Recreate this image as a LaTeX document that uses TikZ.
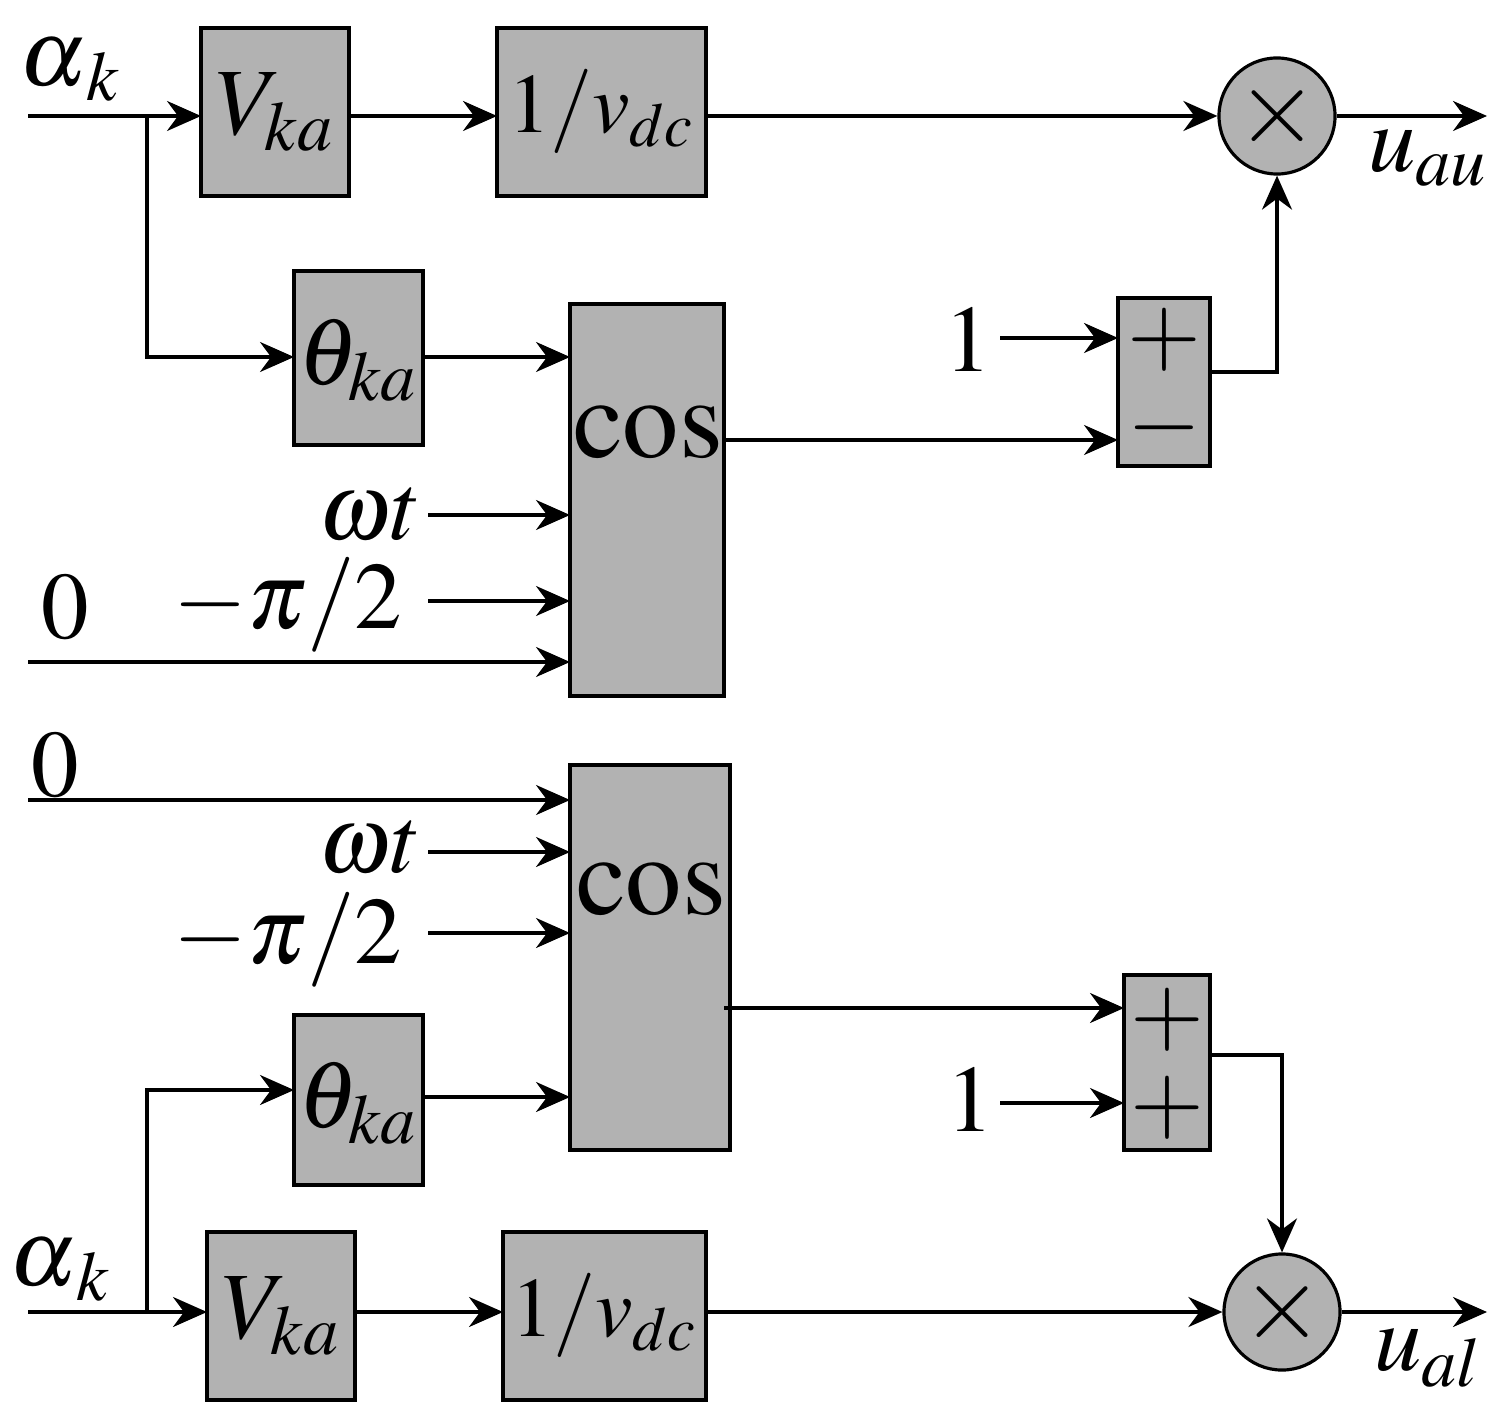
\documentclass[tikz,border=0pt]{standalone}
\usepackage{mathptmx}
\usetikzlibrary{arrows.meta}
\begin{document}
\begin{tikzpicture}[x=0.01cm,y=-0.01cm,line width=0.9pt,
  arr/.style={-{Stealth[length=0.34cm,width=0.3cm]}},
  blk/.style={draw,fill=black!30},
  mul/.style={draw,fill=black!30,circle,minimum size=1.16cm,inner sep=0pt,font=\fontsize{30}{30}\selectfont},
  lbl/.style={font=\fontsize{27}{29}\selectfont,inner sep=0pt},
  dl/.style={font=\fontsize{24}{26}\selectfont,inner sep=0pt}]
\useasboundingbox (0,0) rectangle (1507,1419);
% ---------- upper ----------
\draw[blk] (201,28) rectangle (349,196); \node[lbl] (V1) at (275,112) {$V_{ka}$};
\draw[blk] (497,28) rectangle (706,196); \node[dl] (D1) at (601,112) {$1/v_{dc}$};
\node[mul] (M1) at (1277,116) {$\times$};
\draw[blk] (294,271) rectangle (423,445); \node[lbl] (T1) at (358,360) {$\theta_{ka}$};
\draw[blk] (570,304) rectangle (724,696); \node[lbl,font=\fontsize{32}{34}\selectfont] (C1) at (648,433) {$\cos$};
\draw[blk] (1118,298) rectangle (1210,466);
\node[lbl] (p1) at (1164,340) {$+$};
\node[lbl] (m1) at (1164,428) {$-$};
\node[lbl] (a1) at (70,70) {$\alpha_{\,k}$};
\coordinate (in1) at (28,116);
\coordinate (br1) at (147,116);
\draw[arr] (in1) -- (201,116);
\draw[arr] (349,116) -- (497,116);
\draw[arr] (706,116) -- (M1.west);
\coordinate (o1) at (1487,116);
\draw[arr] (M1.east) -- (o1);
\node[lbl] at (1428,158) {$u_{au}$};
\draw[arr] (br1) |- (294,357);
\draw[arr] (423,357) -- (570,357);
\draw[arr] (724,440) -- (1118,440);
\node[lbl] (one1) at (968,340) {$1$};
\draw[arr] (1000,338) -- (1118,338);
\coordinate (s1o) at (1277,372);
\draw[arr] (1210,372) -- (s1o) -- (M1.south);
\node[lbl] at (370,515) {$\omega t$};
\draw[arr] (428,515) -- (570,515);
\node[lbl] at (288,605) {$-\pi/2$};
\draw[arr] (428,601) -- (570,601);
\node[lbl] at (65,607) {$0$};
\draw[arr] (28,662) -- (570,662);
% ---------- lower ----------
\node[lbl] at (55,765) {$0$};
\draw[blk] (570,765) rectangle (730,1150); \node[lbl,font=\fontsize{32}{34}\selectfont] (C2) at (651,890) {$\cos$};
\draw[arr] (28,800) -- (570,800);
\node[lbl] at (370,848) {$\omega t$};
\draw[arr] (428,852) -- (570,852);
\node[lbl] at (288,940) {$-\pi/2$};
\draw[arr] (428,933) -- (570,933);
\draw[blk] (294,1015) rectangle (423,1185); \node[lbl] (T2) at (358,1103) {$\theta_{ka}$};
\draw[arr] (423,1097) -- (570,1097);
\draw[blk] (1124,975) rectangle (1210,1150);
\node[lbl] at (1167,1020) {$+$};
\node[lbl] at (1167,1108) {$+$};
\draw[arr] (724,1008) -- (1124,1008);
\node[lbl] at (970,1100) {$1$};
\draw[arr] (1000,1103) -- (1124,1103);
\node[mul] (M2) at (1282,1312) {$\times$};
\coordinate (s2o) at (1282,1055);
\draw[arr] (1210,1055) -- (s2o) -- (M2.north);
\node[lbl] at (60,1270) {$\alpha_{\,k}$};
\coordinate (in2) at (28,1312);
\coordinate (br2) at (147,1312);
\draw[blk] (207,1232) rectangle (355,1400); \node[lbl] (V2) at (281,1316) {$V_{ka}$};
\draw[blk] (503,1232) rectangle (706,1400); \node[dl] (D2) at (604,1316) {$1/v_{dc}$};
\draw[arr] (in2) -- (207,1312);
\draw[arr] (br2) |- (294,1090);
\draw[arr] (355,1312) -- (503,1312);
\draw[arr] (706,1312) -- (M2.west);
\coordinate (o2) at (1487,1312);
\draw[arr] (M2.east) -- (o2);
\node[lbl] at (1428,1358) {$u_{al}$};
\end{tikzpicture}
\end{document}
